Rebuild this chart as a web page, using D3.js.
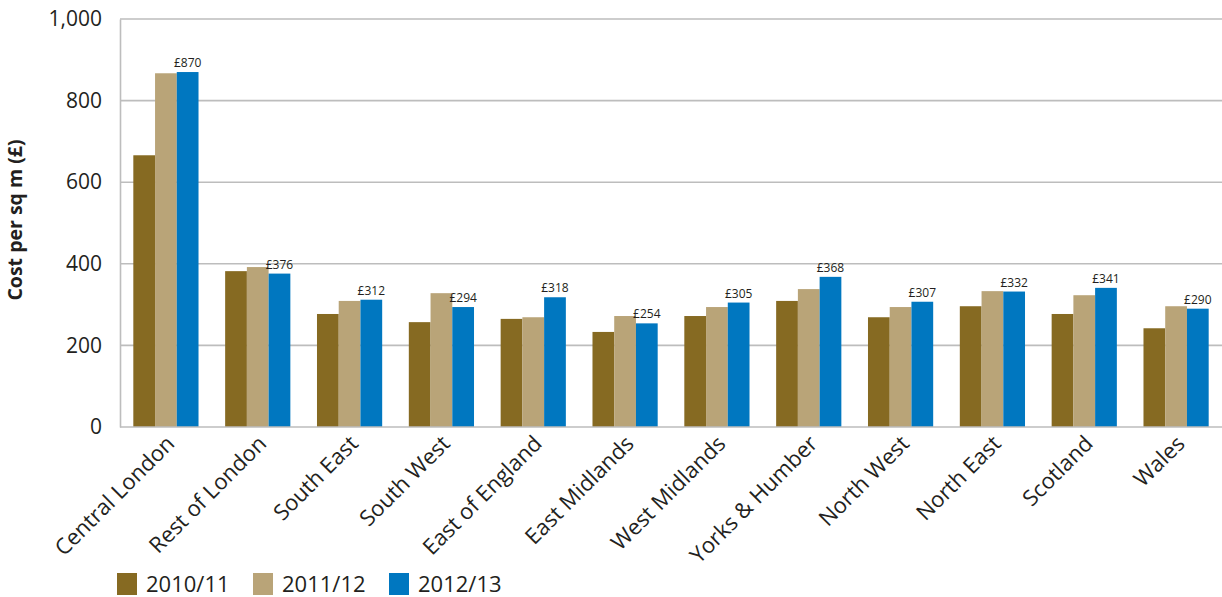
<!DOCTYPE html>
<html>
<head>
<meta charset="utf-8">
<script src="https://cdn.jsdelivr.net/npm/d3@7"></script>
<style>
  html, body { margin: 0; padding: 0; background: #fff; }
  svg { display: block; font-family: "Open Sans", "Noto Sans", sans-serif; }
</style>
</head>
<body>
<svg id="chart" width="1222" height="597"></svg>
<script>
// Regions and cost per square metre (£) by year
const regions = ["Central London", "Rest of London", "South East", "South West", "East of England",
  "East Midlands", "West Midlands", "Yorks & Humber", "North West", "North East", "Scotland", "Wales"];
const years = ["2010/11", "2011/12", "2012/13"];
const cost2010 = [666, 382, 277, 257, 265, 233, 272, 309, 269, 296, 277, 242];
const cost2011 = [867, 392, 309, 328, 269, 272, 294, 338, 294, 333, 323, 296];
const cost2012 = [870, 376, 312, 294, 318, 254, 305, 368, 307, 332, 341, 290];
const yTicks = [0, 200, 400, 600, 800, 1000];
const colors = ["#866a22", "#b9a478", "#0077c0"];

const series = [cost2010, cost2011, cost2012];
const rows = regions.map((r, i) => ({ region: r, values: series.map((s, k) => ({ year: years[k], value: s[i] })) }));

const svg = d3.select("#chart");
const plotLeft = 120, plotRight = 1222, plotTop = 19, plotBottom = 427;

const x0 = d3.scaleBand().domain(regions).range([plotLeft, plotRight]).paddingInner(0.29).paddingOuter(0.145);
const x1 = d3.scaleBand().domain(years).range([0, x0.bandwidth()]);
const y = d3.scaleLinear().domain([0, 1000]).range([plotBottom, plotTop]);

// gridlines
svg.append("g").selectAll("line").data(yTicks.filter(t => t > 0)).join("line")
  .attr("x1", plotLeft).attr("x2", plotRight)
  .attr("y1", d => y(d)).attr("y2", d => y(d))
  .attr("stroke", "#bdbdbd").attr("stroke-width", 1.6);

// y axis labels
const yAxis = svg.append("g").attr("transform", `translate(${plotLeft},0)`)
  .call(d3.axisLeft(y).tickValues(yTicks).tickSize(0).tickPadding(18).tickFormat(d3.format(",")));
yAxis.select(".domain").attr("stroke", "#bdbdbd").attr("stroke-width", 1.6);
yAxis.selectAll("text").attr("font-size", 21).attr("fill", "#231f20")
  .attr("font-family", "'Open Sans', 'Noto Sans', sans-serif");

svg.append("text")
  .attr("transform", `translate(22,${(plotTop + plotBottom) / 2 - 3}) rotate(-90)`)
  .attr("text-anchor", "middle")
  .attr("font-size", 19.5).attr("font-weight", "bold").attr("fill", "#231f20")
  .text("Cost per sq m (£)");

// bars
const groups = svg.append("g").selectAll("g").data(rows).join("g")
  .attr("transform", d => `translate(${x0(d.region)},0)`);
groups.selectAll("rect").data(d => d.values).join("rect")
  .attr("x", d => x1(d.year))
  .attr("width", x1.bandwidth())
  .attr("y", d => y(d.value))
  .attr("height", d => y(0) - y(d.value))
  .attr("fill", (d, i) => colors[i]);

// value labels on latest year
groups.append("text")
  .attr("x", x1(years[2]) + x1.bandwidth() / 2)
  .attr("y", d => y(d.values[2].value) - 5)
  .attr("text-anchor", "middle")
  .attr("font-size", 12).attr("fill", "#231f20")
  .text(d => "£" + d.values[2].value);

// baseline
svg.append("line").attr("x1", plotLeft).attr("x2", plotRight).attr("y1", plotBottom).attr("y2", plotBottom)
  .attr("stroke", "#bdbdbd").attr("stroke-width", 1.6);

// category labels
svg.append("g").selectAll("text").data(regions).join("text")
  .attr("transform", d => `translate(${x0(d) + x0.bandwidth() / 2 + 10},${plotBottom + 18}) rotate(-45)`)
  .attr("text-anchor", "end")
  .attr("font-size", 22).attr("fill", "#231f20")
  .text(d => d);

// legend
const legendX = [117, 253, 389];
const legend = svg.append("g").selectAll("g").data(years).join("g")
  .attr("transform", (d, i) => `translate(${legendX[i]},573)`);
legend.append("rect").attr("width", 20).attr("height", 22).attr("fill", (d, i) => colors[i]);
legend.append("text").attr("x", 29).attr("y", 19)
  .attr("font-size", 22).attr("fill", "#231f20").text(d => d);
</script>
</body>
</html>
